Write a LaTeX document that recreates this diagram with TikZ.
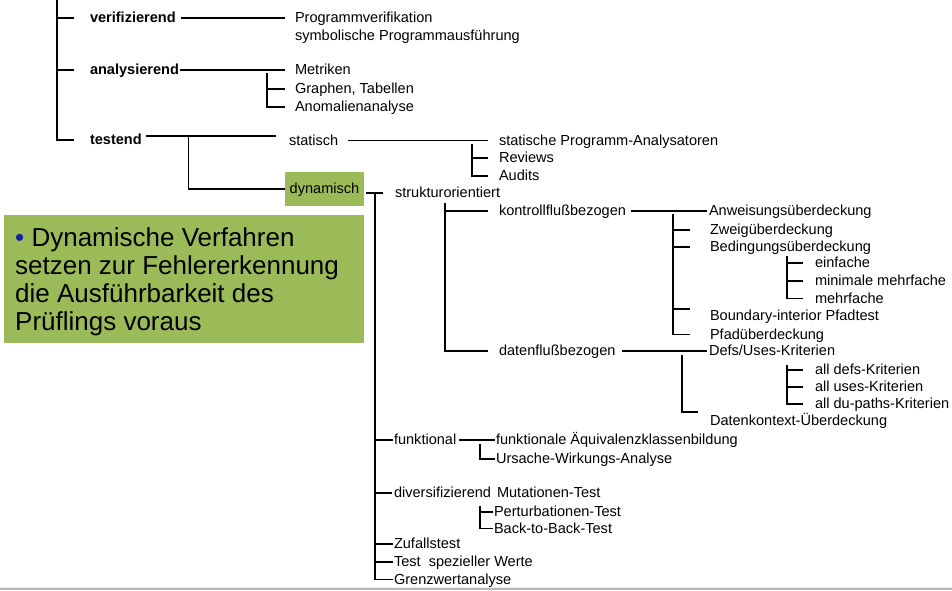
\documentclass[tikz,border=0pt]{standalone}
\usepackage{fontspec}
\setmainfont{Liberation Sans}[Ligatures=NoCommon]
\definecolor{boxgreen}{RGB}{155,187,89}
\definecolor{bulletblue}{RGB}{20,30,170}
\newcommand\fsn{\fontsize{14.55pt}{17pt}\selectfont}
\newcommand\fsg{\fontsize{26pt}{28pt}\selectfont}
\tikzset{
  t/.style={anchor=west, inner sep=0pt, outer sep=0pt, font=\fsn, text height=12.5pt, text depth=3.5pt},
  tb/.style={t, font=\fsn\bfseries},
  ln/.style={line width=1.35pt, black},
  gtext/.style={anchor=base west, inner sep=0pt, font=\fsg},
  dynbox/.style={fill=boxgreen, minimum width=79pt, minimum height=34pt, inner sep=0pt, font=\fsn, text height=11.5pt, text depth=2pt}
}
\begin{document}
\begin{tikzpicture}[x=1pt,y=-1pt]
\useasboundingbox (0,0) rectangle (952,590);
% bottom edge
\fill[black!8] (0,586.5) rectangle (952,588);
\fill[black!28] (0,588) rectangle (952,590);

% green callout
\fill[boxgreen] (4,215) rectangle (364,343);
\node[gtext] (g1) at (15,246.7) {{\color{bulletblue}•} Dynamische Verfahren};
\node[gtext] (g2) at (15,274.7) {setzen zur Fehlererkennung};
\node[gtext] (g3) at (15,302.7) {die Ausführbarkeit des};
\node[gtext] (g4) at (15,330.7) {Prüflings voraus};

% level 0
\node[tb] (verif) at (90,18) {verifizierend};
\node[tb] (analys) at (90,70) {analysierend};
\node[tb] (testend) at (90,140) {testend};

\node[t] (prog) at (295,18) {Programmverifikation};
\node[t] (symb) at (295,36) {symbolische Programmausführung};
\node[t] (metr) at (295,70) {Metriken};
\node[t] (graph) at (295,89) {Graphen, Tabellen};
\node[t] (anom) at (295,107) {Anomalienanalyse};
\node[t] (stat) at (289,140.5) {statisch};
\node[t] (spa) at (499,140.5) {statische Programm-Analysatoren};
\node[t] (rev) at (499,158) {Reviews};
\node[t] (aud) at (499,176) {Audits};
\node[dynbox] (dyn) at (324.5,189) {dynamisch};
\node[t] (strukt) at (395,193) {strukturorientiert};
\node[t] (kontr) at (499,211) {kontrollflußbezogen};
\node[t] (daten) at (499,351) {datenflußbezogen};
\node[t] (anw) at (709,211) {Anweisungsüberdeckung};
\node[t] (zweig) at (710,230) {Zweigüberdeckung};
\node[t] (bed) at (710,247) {Bedingungsüberdeckung};
\node[t] (einf) at (815,263) {einfache};
\node[t] (minm) at (815,281) {minimale mehrfache};
\node[t] (mehr) at (815,298.5) {mehrfache};
\node[t] (bound) at (710,316) {Boundary-interior Pfadtest};
\node[t] (pfad) at (710,334.5) {Pfadüberdeckung};
\node[t] (defs) at (709,351) {Defs/Uses-Kriterien};
\node[t] (alldefs) at (815,370) {all defs-Kriterien};
\node[t] (alluses) at (815,387) {all uses-Kriterien};
\node[t] (alldu) at (815,404) {all du-paths-Kriterien};
\node[t] (dkont) at (710,421) {Datenkontext-Überdeckung};
\node[t] (funk) at (394,440) {funktional};
\node[t] (fae) at (496,440) {funktionale Äquivalenzklassenbildung};
\node[t] (urs) at (496,459) {Ursache-Wirkungs-Analyse};
\node[t] (div) at (394,493) {diversifizierend};
\node[t] (mut) at (497,493) {Mutationen-Test};
\node[t] (pert) at (494,512) {Perturbationen-Test};
\node[t] (btb) at (494,528.5) {Back-to-Back-Test};
\node[t] (zuf) at (394,544) {Zufallstest};
\node[t] (tsw) at (394,562) {Test\ \ spezieller Werte};
\node[t] (grenz) at (394,579.5) {Grenzwertanalyse};

% level 0 trunk
\coordinate (top) at (57,0);
\draw[ln] (top) |- ([xshift=-16]testend.west);
\draw[ln] ([xshift=-33]verif.west) -- ([xshift=-16]verif.west);
\draw[ln] ([xshift=-33]analys.west) -- ([xshift=-16]analys.west);

% verifizierend
\draw[ln] ([xshift=5]verif.east) -- ([xshift=-10]prog.west);
% analysierend
\draw[ln] ([xshift=1]analys.east) -- ([xshift=-10]metr.west);
\draw[ln] ([xshift=-28,yshift=-3]metr.west) |- ([xshift=-10]anom.west);
\draw[ln] ([xshift=-28]graph.west) -- ([xshift=-10]graph.west);
% testend
\draw[ln] ([xshift=4,yshift=4]testend.east) -- ([xshift=-13,yshift=4.5]stat.west);
\draw[ln] ([xshift=47,yshift=4]testend.east) |- (dyn.west);
% statisch
\draw[ln] ([xshift=10]stat.east) -- ([xshift=-11]spa.west);
\draw[ln] ([xshift=-27,yshift=-3.5]spa.west) |- ([xshift=-11]aud.west);
\draw[ln] ([xshift=-27]rev.west) -- ([xshift=-11]rev.west);
% dynamisch
\draw[ln] ([xshift=2,yshift=-4]dyn.east) -- ([xshift=-12]strukt.west);
\coordinate (trunk) at (375,193);
\draw[ln] (trunk) |- ([xshift=-1]grenz.west);
% strukturorientiert
\coordinate (sb) at (445,203);
\draw[ln] (sb) |- ([xshift=-11]daten.west);
\draw[ln] (sb |- kontr.west) -- ([xshift=-11]kontr.west);
% kontrollfluss
\draw[ln] ([xshift=5]kontr.east) -- ([xshift=-2]anw.west);
\coordinate (kb) at (673,214);
\draw[ln] (kb) |- ([xshift=-20]pfad.west);
\draw[ln] (kb |- zweig.west) -- ([xshift=-20]zweig.west);
\draw[ln] (kb |- bed.west) -- ([xshift=-20]bed.west);
\draw[ln] ([yshift=7]bound.west -| kb) -- ([xshift=-20,yshift=7]bound.west);
\coordinate (bb) at (787,256);
\draw[ln] (bb) |- ([xshift=-12]mehr.west);
\draw[ln] (bb |- einf.west) -- ([xshift=-12]einf.west);
\draw[ln] (bb |- minm.west) -- ([xshift=-12]minm.west);
% datenfluss
\draw[ln] ([xshift=6]daten.east) -- ([xshift=-2]defs.west);
\coordinate (db) at (682,355);
\draw[ln] (db) |- ([xshift=-12,yshift=9]dkont.west);
\coordinate (fb) at (787,365);
\draw[ln] (fb) |- ([xshift=-12]alldu.west);
\draw[ln] (fb |- alldefs.west) -- ([xshift=-12]alldefs.west);
\draw[ln] (fb |- alluses.west) -- ([xshift=-12]alluses.west);
% funktional
\draw[ln] (trunk |- funk.west) -- ([xshift=-1]funk.west);
\draw[ln] ([xshift=3]funk.east) -- ([xshift=-1]fae.west);
\coordinate (fub) at (480,444);
\draw[ln] (fub) |- ([xshift=-1]urs.west);
% diversifizierend
\draw[ln] (trunk |- div.west) -- ([xshift=-2]div.west);
\coordinate (dvb) at (480,506);
\draw[ln] (dvb) |- ([xshift=-1]btb.west);
\draw[ln] (dvb |- pert.west) -- ([xshift=-1]pert.west);
% others
\draw[ln] (trunk |- zuf.west) -- ([xshift=-1]zuf.west);
\draw[ln] (trunk |- tsw.west) -- ([xshift=-1]tsw.west);
\end{tikzpicture}
\end{document}
